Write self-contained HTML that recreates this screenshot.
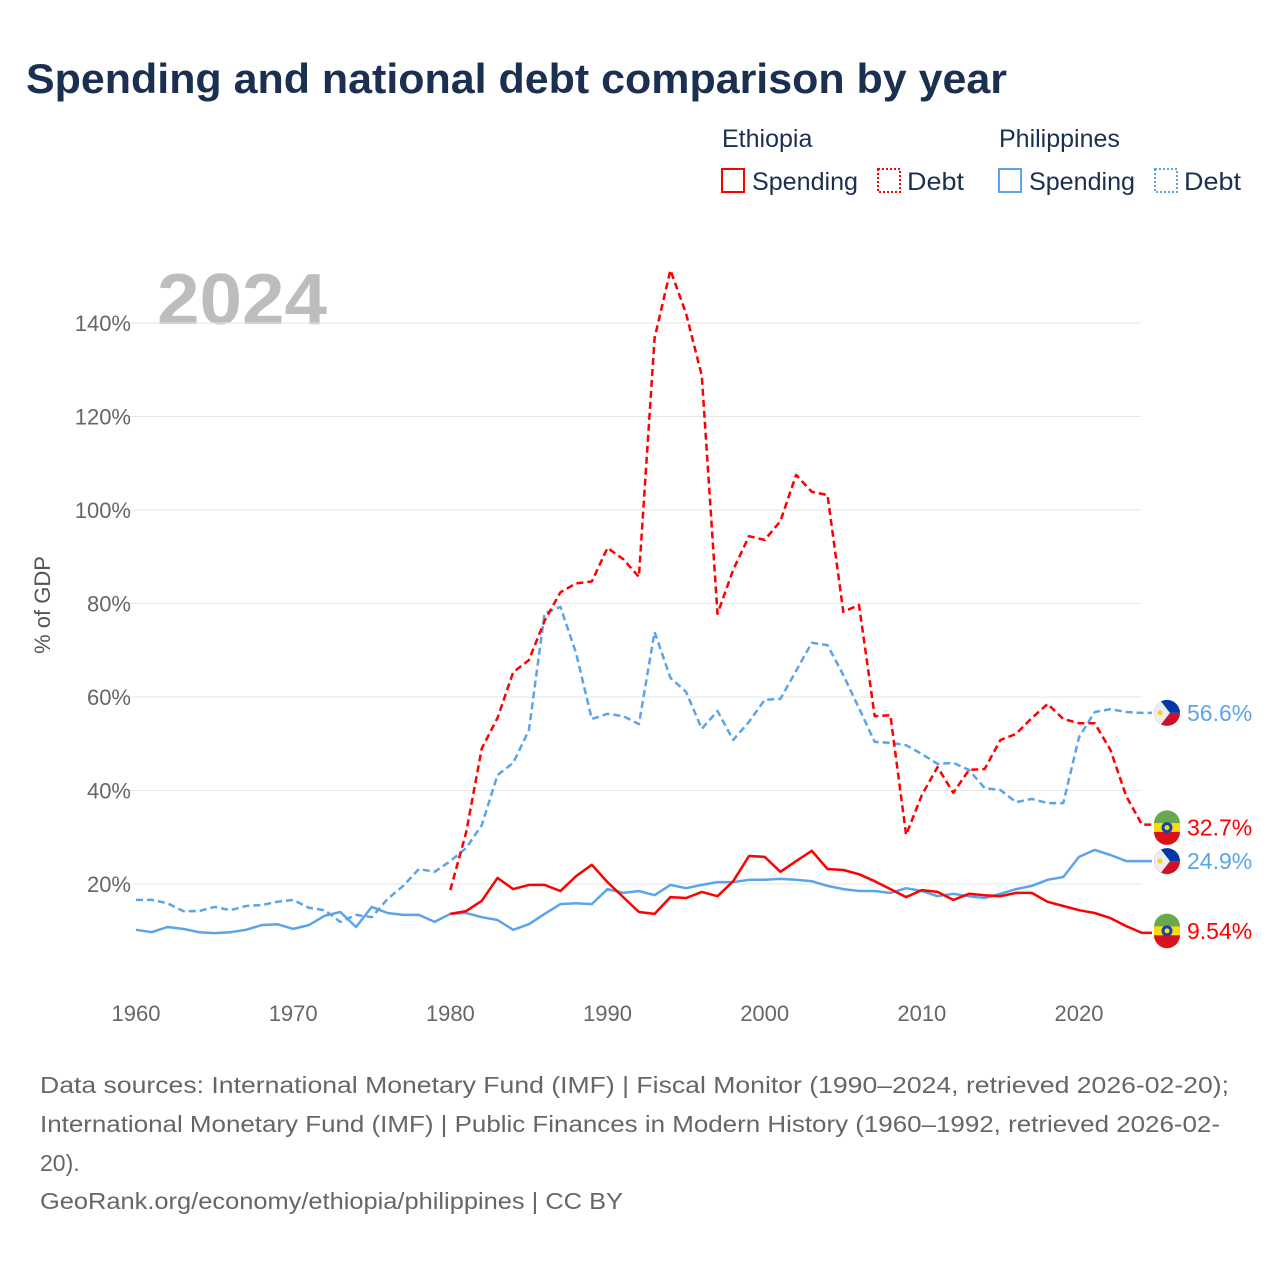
<!DOCTYPE html>
<html><head><meta charset="utf-8"><style>
body{margin:0;background:#fff;font-family:"Liberation Sans",sans-serif;}
svg{display:block}
</style></head><body>
<svg id="chart" width="1280" height="1280" viewBox="0 0 1280 1280">
<text x="26" y="93" font-size="42" font-weight="bold" fill="#1b2f50" textLength="981" lengthAdjust="spacingAndGlyphs">Spending and national debt comparison by year</text>
<g font-size="25" fill="#1b2f50">
<text x="722" y="147">Ethiopia</text>
<text x="999" y="147">Philippines</text>
<g><rect x="722" y="169" width="22" height="23" fill="none" stroke="#ff0000" stroke-width="2"/><text x="752" y="190" textLength="106" lengthAdjust="spacingAndGlyphs">Spending</text></g>
<g><rect x="878" y="169" width="22" height="23" fill="none" stroke="#ff0000" stroke-width="2" stroke-dasharray="2,2"/><text x="907" y="190" textLength="57" lengthAdjust="spacingAndGlyphs">Debt</text></g>
<g><rect x="999" y="169" width="22" height="23" fill="none" stroke="#5ba4ea" stroke-width="2"/><text x="1029" y="190" textLength="106" lengthAdjust="spacingAndGlyphs">Spending</text></g>
<g><rect x="1155" y="169" width="22" height="23" fill="none" stroke="#5ba4ea" stroke-width="2" stroke-dasharray="2,2"/><text x="1184" y="190" textLength="57" lengthAdjust="spacingAndGlyphs">Debt</text></g>
</g>
<text x="157" y="324" font-size="72" font-weight="bold" fill="#bdbdbd" textLength="170" lengthAdjust="spacingAndGlyphs">2024</text>
<text transform="translate(50,605) rotate(-90)" text-anchor="middle" font-size="22" fill="#555">% of GDP</text>
<g id="grid"></g><g id="yticks"></g><g id="xticks"></g><g id="series"></g><g id="ends"></g>
<g font-size="23" fill="#666">
<text x="40" y="1093" textLength="1189" lengthAdjust="spacingAndGlyphs">Data sources: International Monetary Fund (IMF) | Fiscal Monitor (1990–2024, retrieved 2026-02-20);</text>
<text x="40" y="1132" textLength="1180" lengthAdjust="spacingAndGlyphs">International Monetary Fund (IMF) | Public Finances in Modern History (1960–1992, retrieved 2026-02-</text>
<text x="40" y="1171">20).</text>
<text x="40" y="1209" textLength="583" lengthAdjust="spacingAndGlyphs">GeoRank.org/economy/ethiopia/philippines | CC BY</text>
</g>
</svg>
<script>
const yTicks=[20,40,60,80,100,120,140];
const xTicks=[1960,1970,1980,1990,2000,2010,2020];
const phSpendStart=1960;
const phSpending=[10.2,9.7,10.8,10.4,9.7,9.5,9.7,10.2,11.2,11.4,10.4,11.2,13.2,14.0,10.8,15.1,13.8,13.4,13.4,11.9,13.6,13.8,12.9,12.3,10.2,11.4,13.6,15.7,15.9,15.7,18.9,18.1,18.5,17.6,19.8,19.1,19.8,20.4,20.4,20.9,20.9,21.1,20.9,20.6,19.6,18.9,18.5,18.5,18.1,19.1,18.5,17.4,17.9,17.4,17.0,17.9,18.9,19.6,20.9,21.5,25.8,27.3,26.2,24.9,24.9];
const phDebtStart=1960;
const phDebt=[16.6,16.6,15.9,14.2,14.2,15.1,14.4,15.3,15.5,16.2,16.6,14.9,14.4,11.9,13.4,12.9,16.8,19.6,23.2,22.6,24.9,27.7,32.6,43.3,45.9,52.9,77.9,79.3,69.4,55.3,56.4,55.9,54.2,73.9,64.1,61.1,53.2,57.0,50.8,54.7,59.4,59.6,65.6,71.6,71.1,64.7,57.6,50.4,50.2,49.7,47.8,45.7,45.9,44.4,40.5,40.1,37.5,38.2,37.3,37.3,51.4,56.8,57.4,56.8,56.6];
const etSpendStart=1980;
const etSpending=[13.6,14.2,16.4,21.3,18.9,19.8,19.8,18.5,21.7,24.1,20.4,17.2,14.0,13.6,17.2,17.0,18.3,17.4,20.6,26.0,25.8,22.6,24.9,27.1,23.2,23.0,22.1,20.6,18.9,17.2,18.7,18.3,16.6,17.9,17.6,17.4,18.1,18.1,16.2,15.3,14.4,13.8,12.7,11.0,9.54];
const etDebtStart=1980;
const etDebt=[18.7,31.0,49.0,55.5,65.3,67.9,76.3,82.4,84.3,84.7,91.9,89.5,85.7,136.8,151.3,142.0,128.7,77.8,87.2,94.4,93.6,97.6,107.5,103.9,103.2,78.2,79.7,55.9,56.1,30.5,39.0,45.0,39.5,44.4,44.6,50.8,52.1,55.5,58.5,55.3,54.4,54.4,48.7,38.8,32.7];
const endLabels=["56.6%","32.7%","24.9%","9.54%"];

const NS="http://www.w3.org/2000/svg";
const X=yr=>136+(yr-1960)*(1079-136)/60;
const Y=v=>977.5-v*4.675;
function mk(tag,attrs,parent){const e=document.createElementNS(NS,tag);for(const k in attrs)e.setAttribute(k,attrs[k]);parent.appendChild(e);return e;}
const grid=document.getElementById('grid'),yt=document.getElementById('yticks'),xt=document.getElementById('xticks'),ser=document.getElementById('series'),ends=document.getElementById('ends');
yTicks.forEach(v=>{
  const l=mk('line',{x1:128,x2:1141,y1:Y(v),y2:Y(v),stroke:'#e6e6e6','stroke-width':1},grid);
  
  
  const t=mk('text',{x:131,y:Y(v)+8,'text-anchor':'end','font-size':22,fill:'#666'},yt);
  t.textContent=v+'%';
  
  
});
xTicks.forEach(v=>{
  const t=mk('text',{x:X(v),y:1021,'text-anchor':'middle','font-size':22,fill:'#666'},xt);
  t.textContent=v;
  
  
});
function line(arr,start,color,dash,name){
  const pts=arr.map((v,i)=>X(start+i).toFixed(1)+','+Y(v).toFixed(1));
  pts.push('1152,'+Y(arr[arr.length-1]).toFixed(1));
  const p=mk('polyline',{points:pts.join(' '),fill:'none',stroke:color,'stroke-width':2.5,'stroke-linejoin':'round'},ser);
  if(dash)p.setAttribute('stroke-dasharray',dash);
  
  
}
line(phSpending,phSpendStart,'#5ba4ea',null,'line-philippines-spending');
line(phDebt,phDebtStart,'#5ba4ea','7,4','line-philippines-debt');
line(etSpending,etSpendStart,'#ff0000',null,'line-ethiopia-spending');
line(etDebt,etDebtStart,'#ff0000','7,4','line-ethiopia-debt');
function flag(cy,country,color,label,name){
  const g=mk('g',{},ends);
  
  
  const cx=1167,r=13;
  if(country==='ph'){
    mk('path',{d:`M${cx-r},${cy} A${r},${r} 0 0 1 ${cx+r},${cy} Z`,fill:'#0038a8'},g);
    mk('path',{d:`M${cx-r},${cy} A${r},${r} 0 0 0 ${cx+r},${cy} Z`,fill:'#ce1126'},g);
    mk('path',{d:`M${cx-6},${cy-11.5} L${cx+3},${cy} L${cx-6},${cy+11.5} A${r},${r} 0 0 1 ${cx-6},${cy-11.5}Z`,fill:'#eee'},g);
    mk('circle',{cx:cx-7,cy:cy,r:2.5,fill:'#fcd116'},g);
  }else{
    mk('path',{d:`M${cx-r},${cy-4.3} A${r},${r} 0 0 1 ${cx+r},${cy-4.3} Z`,fill:'#6aa84f'},g);
    mk('rect',{x:cx-r,y:cy-4.5,width:2*r,height:9,fill:'#fcdd09'},g);
    mk('path',{d:`M${cx-r},${cy+4.3} A${r},${r} 0 0 0 ${cx+r},${cy+4.3} Z`,fill:'#da121a'},g);
    mk('circle',{cx:cx,cy:cy,r:5.5,fill:'#0f47af'},g);
    mk('circle',{cx:cx,cy:cy,r:2.5,fill:'#fcdd09'},g);
  }
  const t=mk('text',{x:1187,y:cy+8,'font-size':23,fill:color},g);
  t.textContent=label;
}
flag(Y(phDebt[phDebt.length-1]),'ph','#5ba4ea',endLabels[0],'end-label-philippines-debt');
flag(Y(etDebt[etDebt.length-1])+3,'et','#ff0000',endLabels[1],'end-label-ethiopia-debt');
flag(Y(phSpending[phSpending.length-1]),'ph','#5ba4ea',endLabels[2],'end-label-philippines-spending');
flag(Y(etSpending[etSpending.length-1])-2,'et','#ff0000',endLabels[3],'end-label-ethiopia-spending');
</script>
</body></html>
